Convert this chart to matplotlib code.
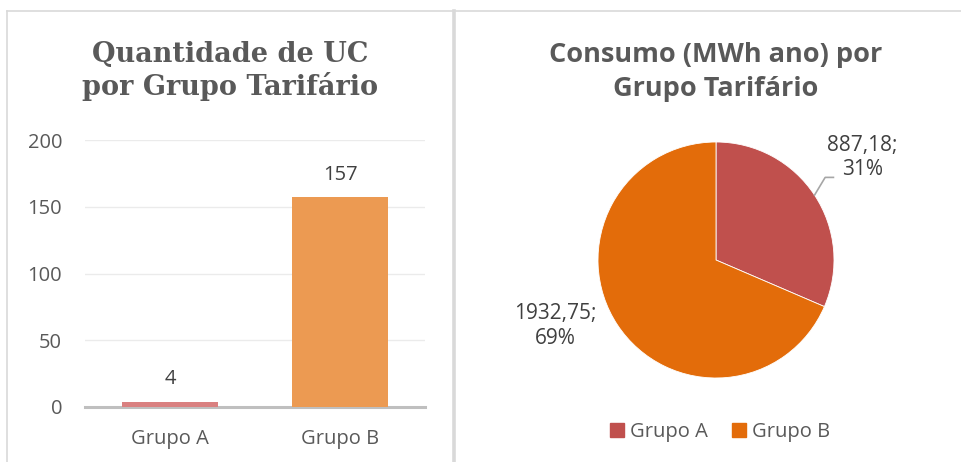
import matplotlib
matplotlib.use("Agg")
import matplotlib.pyplot as plt
from matplotlib.lines import Line2D
import numpy as np

# ---- data ----
bar_categories = ["Grupo A", "Grupo B"]
bar_values = [4, 157]
bar_yticks = [0, 50, 100, 150, 200]

pie_labels = ["Grupo A", "Grupo B"]
pie_values = [887.18, 1932.75]
pie_pcts = ["31%", "69%"]
pie_value_text = ["887,18", "1932,75"]

W, H = 962, 462
fig = plt.figure(figsize=(W / 100, H / 100), dpi=100)

def px_rect(x0, y0, x1, y1):
    return [x0 / W, 1 - y1 / H, (x1 - x0) / W, (y1 - y0) / H]

txt = "#595959"
grid_c = "#EBEBEB"

# ---- panel borders ----
border_c = "#D9D9D9"
fig.add_artist(Line2D([7 / W, 7 / W], [0, 1 - 11 / H], color=border_c, lw=1.2, transform=fig.transFigure))
fig.add_artist(Line2D([7 / W, 1], [1 - 11 / H, 1 - 11 / H], color=border_c, lw=1.2, transform=fig.transFigure))
fig.add_artist(Line2D([454.5 / W, 454.5 / W], [0, 1 - 11 / H], color=border_c, lw=2.6, transform=fig.transFigure))

# ---- bar chart ----
ax = fig.add_axes(px_rect(85, 140, 425, 407))
x = np.arange(len(bar_categories))
bar_colors = ["#D98080", "#EC9A52"]
ax.bar(x, bar_values, width=0.56, color=bar_colors, zorder=3)
ax.set_xlim(-0.5, 1.5)
ax.set_ylim(0, 200)
ax.set_yticks(bar_yticks)
ax.set_xticks(x)
ax.set_xticklabels(bar_categories, fontsize=14.5, color=txt, family="Open Sans")
ax.set_yticklabels([str(v) for v in bar_yticks], fontsize=14.5, color=txt, family="Open Sans")
ax.tick_params(axis="both", length=0)
ax.tick_params(axis="y", pad=16.5)
ax.tick_params(axis="x", pad=16)
for s in ["top", "right", "left"]:
    ax.spines[s].set_visible(False)
ax.spines["bottom"].set_color("#BFBFBF")
ax.spines["bottom"].set_linewidth(2.2)
ax.yaxis.grid(True, color=grid_c, lw=1.0, zorder=0)
for xi, v in zip(x, bar_values):
    ax.annotate(str(v), (xi, v), xytext=(0, 9), textcoords="offset points",
                ha="center", va="bottom", fontsize=14.5, color="#404040", family="Open Sans")

fig.text(230 / W, 1 - 71 / H, "Quantidade de UC\npor Grupo Tarifário", ha="center", va="center",
         fontsize=19.5, fontweight="bold", color=txt, family="DejaVu Serif", linespacing=1.2)

# ---- pie chart ----
cx, cy, r = 716, 260, 118
pax = fig.add_axes(px_rect(cx - r, cy - r, cx + r, cy + r))
pie_colors = ["#C0504D", "#E36C0A"]
wedges, _ = pax.pie(pie_values, colors=pie_colors, startangle=90, counterclock=False,
                    radius=1.0, wedgeprops=dict(linewidth=0.6, edgecolor="white"))
pax.set_xlim(-1, 1)
pax.set_ylim(-1, 1)
pax.set_aspect("equal")
pax.axis("off")

# label A with leader line
wA = wedges[0]
angA = np.deg2rad((wA.theta1 + wA.theta2) / 2)
ex, ey = np.cos(angA), np.sin(angA)
pax.plot([ex, ex + 0.09, ex + 0.16], [ey, ey + 0.15, ey + 0.15],
         color="#A6A6A6", lw=1.2, clip_on=False)
pax.text(1.24, 0.87, f"{pie_value_text[0]};\n{pie_pcts[0]}", ha="center", va="center",
         fontsize=15, color="#404040", family="Open Sans", linespacing=1.2)
pax.text(-1.36, -0.56, f"{pie_value_text[1]};\n{pie_pcts[1]}", ha="center", va="center",
         fontsize=15, color="#404040", family="Open Sans", linespacing=1.2)

fig.text(716 / W, 1 - 72 / H, "Consumo (MWh ano) por\nGrupo Tarifário", ha="center", va="center",
         fontsize=19.5, fontweight="bold", color=txt, family="Open Sans", linespacing=1.35)

# legend
handles = [plt.Rectangle((0, 0), 1, 1, color=c) for c in pie_colors]
fig.legend(handles, pie_labels, loc="center", bbox_to_anchor=(720 / W, 1 - 432 / H), ncol=2,
           frameon=False, prop=dict(family="Open Sans", size=14.5), labelcolor=txt,
           handlelength=0.7, handleheight=0.7, handletextpad=0.3, columnspacing=1.2)

fig.savefig("out.png", dpi=100)
